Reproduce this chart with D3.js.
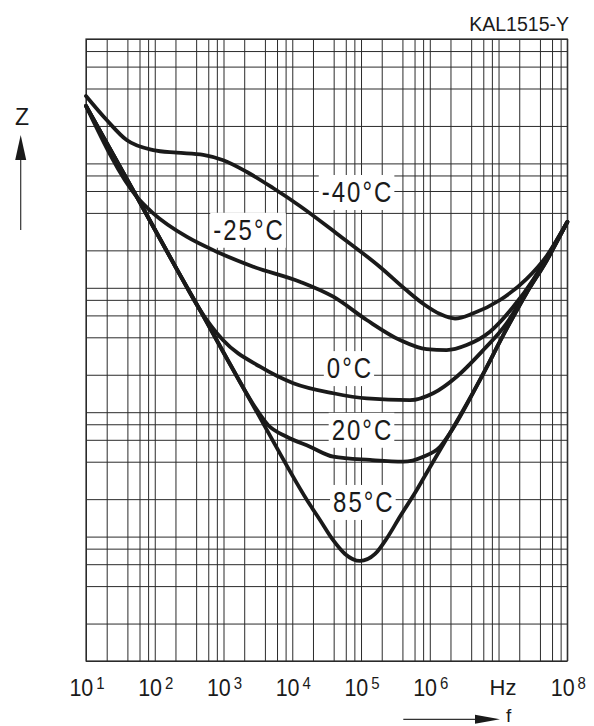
<!DOCTYPE html>
<html>
<head>
<meta charset="utf-8">
<script src="https://cdn.jsdelivr.net/npm/d3@7"></script>
<style>
body { margin: 0; background: #fff; }
svg text { font-family: "Liberation Sans", Arial, Helvetica, sans-serif; fill: #1a1a1a; }
.grid line { stroke: #2b2b2b; stroke-width: 1; }
.grid path { display: none; }
</style>
</head>
<body>
<div class="graphContainer"></div>
<script>
const w = 594;
const h = 726;

// gridline multipliers inside each decade
const gridSteps = [1, 2, 4, 6, 8];
const fDecades = [1e1, 1e2, 1e3, 1e4, 1e5, 1e6, 1e7];
const zDecades = [1e0, 1e1, 1e2, 1e3, 1e4];

// tick labels along f (null sup = unit label)
const tickValues = [1e1, 1e2, 1e3, 1e4, 1e5, 1e6, 1e7, 1e8];
const tickSup = ["1", "2", "3", "4", "5", "6", null, "8"];

// impedance curves, [f in Hz, Z]
const t40 = [[10, 3.48e4], [20, 2.23e4], [39, 1.54e4], [95, 1.28e4], [208, 1.22e4], [508, 1.17e4],
  [993, 1.06e4], [2190, 8530], [5250, 6340], [1.29e4, 4550], [4.94e4, 2610], [1.89e5, 1470],
  [4.36e5, 978], [8.5e5, 727], [1.41e6, 615], [2.33e6, 566], [4.3e6, 624],
  [1.05e7, 798], [2.56e7, 1180], [5e7, 1800], [1e8, 3380]];
const t25 = [[10, 2.9e4], [54.6, 5400], [95, 3970], [291, 2575], [796, 1950], [2710, 1478],
  [1.29e4, 1120], [3.95e4, 848], [1.21e5, 551], [3.69e5, 380], [9.0e5, 321], [1.76e6, 316],
  [3.44e6, 347], [7.5e6, 444], [1.64e7, 705], [3.17e7, 1155], [5e7, 1750], [1e8, 3380]];
const t0 = [[10, 2.9e4], [54.6, 5400], [208, 1420], [455, 663], [980, 380], [3400, 232],
  [1.035e4, 171], [3.95e4, 142], [1.21e5, 129], [5.15e5, 125], [1.12e6, 142], [2.46e6, 193],
  [6.0e6, 316], [1.31e7, 518], [2.56e7, 950], [5e7, 1700], [1e8, 3380]];
const t20 = [[10, 2.9e4], [54.6, 5400], [208, 1420], [455, 663], [1240, 244], [2870, 110],
  [4440, 78.9], [8300, 63.5], [1.81e4, 52.8], [3.95e4, 43.9], [1.35e5, 41.3], [4.12e5, 40],
  [8.04e5, 43.9], [1.41e6, 52.8], [1.97e6, 68], [5.37e6, 182], [1.31e7, 467],
  [2.56e7, 908], [5e7, 1650], [1e8, 3380]];
const t85 = [[10, 2.9e4], [54.6, 5400], [208, 1420], [455, 663], [1240, 244], [3790, 81],
  [1.81e4, 18], [2.53e4, 13.6], [3.91e4, 9.4], [5.85e4, 7.25], [9.66e4, 6.37], [1.6e5, 7.25],
  [2.39e5, 9.75], [3.69e5, 14.5], [6.46e5, 23.7], [1.01e6, 36.3], [1.97e6, 68], [5.37e6, 182],
  [1.31e7, 467], [2.56e7, 908], [5e7, 1650], [1e8, 3380]];
const series = [t40, t25, t0, t20, t85];

// curve labels and their anchor (centre, baseline) in data units
const labelText = ["-40°C", "-25°C", "0°C", "20°C", "85°C"];
const labelF = [8.9e4, 2350, 6.9e4, 1.05e5, 1.1e5];
const labelZ = [4870, 2420, 187, 59.7, 15.7];

const x = d3.scaleLog().domain([1e1, 1e8]).range([86, 567.3]);
const y = d3.scaleLog().domain([1, 1e5]).range([661, 39]);

const svg = d3.select(".graphContainer").append("svg")
  .attr("width", w)
  .attr("height", h);

// grid values
const xGrid = fDecades.flatMap(d => gridSteps.map(m => m * d)).concat([1e8]);
const yGrid = zDecades.flatMap(d => gridSteps.map(m => m * d)).concat([1e5]);

svg.append("g").attr("class", "grid")
  .attr("transform", `translate(0,${y.range()[0]})`)
  .call(d3.axisBottom(x).tickValues(xGrid).tickSize(y.range()[1] - y.range()[0]).tickFormat(""));

svg.append("g").attr("class", "grid")
  .attr("transform", `translate(${x.range()[0]},0)`)
  .call(d3.axisLeft(y).tickValues(yGrid).tickSize(x.range()[0] - x.range()[1]).tickFormat(""));

//frame
svg.append("rect")
  .attr("x", x.range()[0]).attr("y", y.range()[1])
  .attr("width", x.range()[1] - x.range()[0]).attr("height", y.range()[0] - y.range()[1])
  .attr("fill", "none").attr("stroke", "#2b2b2b").attr("stroke-width", 1.2);

// label background layer goes under the curves
const boxLayer = svg.append("g");

const line = d3.line()
  .x(d => x(d[0]))
  .y(d => y(d[1]))
  .curve(d3.curveMonotoneX);

svg.append("g").selectAll("path")
  .data(series)
  .join("path")
  .attr("d", line)
  .attr("fill", "none")
  .attr("stroke", "#1a1a1a")
  .attr("stroke-width", 3.8)
  .attr("stroke-linecap", "round")
  .attr("stroke-linejoin", "round");

// curve labels
const labTransform = (d, i) => `translate(${x(labelF[i])},${y(labelZ[i])}) scale(1,1.2)`;
const labels = svg.append("g").selectAll("text")
  .data(labelText)
  .join("text")
  .attr("transform", labTransform)
  .attr("text-anchor", "middle")
  .attr("font-size", 24)
  .attr("letter-spacing", 2)
  .text(d => d);

labels.each(function(d, i) {
  const b = this.getBBox();
  boxLayer.append("rect")
    .attr("transform", labTransform(d, i))
    .attr("x", b.x - 3).attr("y", b.y - 1)
    .attr("width", b.width + 4).attr("height", b.height + 2)
    .attr("fill", "#fff");
});

// f tick labels
const ticks = svg.append("g").selectAll("text")
  .data(tickValues)
  .join("text")
  .attr("text-anchor", "middle");

ticks.filter((d, i) => tickSup[i] !== null)
  .attr("transform", d => `translate(${x(d) + 1},696) scale(1,1.15)`)
  .each(function(d) {
    const t = d3.select(this);
    t.append("tspan").attr("font-size", 21.5).text("10");
    t.append("tspan").attr("font-size", 15).attr("dx", 3).attr("dy", -6.5)
      .text(tickSup[tickValues.indexOf(d)]);
  });

ticks.filter((d, i) => tickSup[i] === null)
  .attr("transform", d => `translate(${x(d) + 4.5},695)`)
  .attr("font-size", 22)
  .text("Hz");

// title
svg.append("text")
  .attr("x", 569).attr("y", 30.7)
  .attr("text-anchor", "end")
  .attr("font-size", 19.5)
  .text("KAL1515-Y");

// Z arrow
svg.append("text")
  .attr("x", 22).attr("y", 125)
  .attr("text-anchor", "middle")
  .attr("font-size", 23)
  .text("Z");
svg.append("line")
  .attr("x1", 20.7).attr("x2", 20.7).attr("y1", 230).attr("y2", 158)
  .attr("stroke", "#333").attr("stroke-width", 1.2);
svg.append("path")
  .attr("d", "M20.7,135 L15.2,160 L26.2,160 Z")
  .attr("fill", "#1a1a1a");

// f arrow
svg.append("line")
  .attr("x1", 403.3).attr("x2", 478).attr("y1", 719.3).attr("y2", 719.3)
  .attr("stroke", "#333").attr("stroke-width", 1.2);
svg.append("path")
  .attr("d", "M500,719.3 L475,714.8 L475,723.8 Z")
  .attr("fill", "#1a1a1a");
svg.append("text")
  .attr("x", 506).attr("y", 722)
  .attr("font-size", 19)
  .text("f");
</script>
</body>
</html>
